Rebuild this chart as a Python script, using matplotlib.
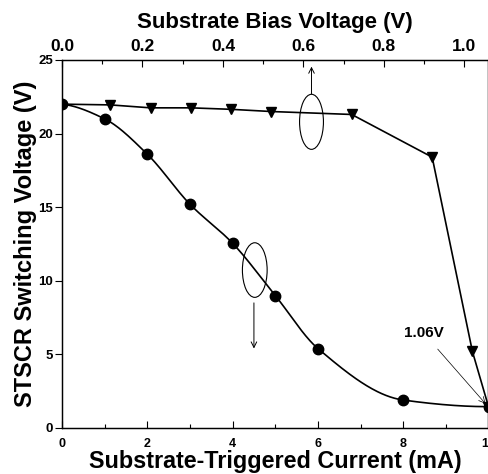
import numpy as np
import matplotlib
matplotlib.use("Agg")
import matplotlib.pyplot as plt
from matplotlib.patches import Ellipse
from matplotlib.ticker import MultipleLocator

plt.rcParams['font.family'] = ['Liberation Sans', 'DejaVu Sans']
plt.rcParams['font.weight'] = 'bold'

# Switching voltage vs. substrate-triggered current (bottom axis)
current_mA = [0, 1, 2, 3, 4, 5, 6, 8, 10]
vsw_current = [22.0, 21.0, 18.6, 15.2, 12.55, 9.0, 5.4, 1.9, 1.45]

# Switching voltage vs. substrate bias voltage (top axis)
bias_V = [0.0, 0.12, 0.22, 0.32, 0.42, 0.52, 0.72, 0.92, 1.02, 1.06]
vsw_bias = [22.0, 21.95, 21.75, 21.75, 21.65, 21.5, 21.3, 18.4, 5.2, 1.45]

x_ticks_bottom = [0, 2, 4, 6, 8, 10]
x_ticks_top = [0.0, 0.2, 0.4, 0.6, 0.8, 1.0]
y_ticks = [0, 5, 10, 15, 20, 25]


def pchip(x, y, xs):
    """Shape-preserving cubic through the measured points."""
    x = np.asarray(x, float)
    y = np.asarray(y, float)
    h = np.diff(x)
    d = np.diff(y) / h
    n = len(x)
    m = np.zeros(n)
    for k in range(1, n - 1):
        if d[k - 1] * d[k] > 0:
            w1 = 2 * h[k] + h[k - 1]
            w2 = h[k] + 2 * h[k - 1]
            m[k] = (w1 + w2) / (w1 / d[k - 1] + w2 / d[k])

    def end(h0, h1, d0, d1):
        s = ((2 * h0 + h1) * d0 - h0 * d1) / (h0 + h1)
        if np.sign(s) != np.sign(d0):
            s = 0.0
        elif np.sign(d0) != np.sign(d1) and abs(s) > abs(3 * d0):
            s = 3 * d0
        return s

    m[0] = end(h[0], h[1], d[0], d[1])
    m[-1] = end(h[-1], h[-2], d[-1], d[-2])
    idx = np.clip(np.searchsorted(x, xs) - 1, 0, n - 2)
    t = (xs - x[idx]) / h[idx]
    h00 = 2 * t**3 - 3 * t**2 + 1
    h10 = t**3 - 2 * t**2 + t
    h01 = -2 * t**3 + 3 * t**2
    h11 = t**3 - t**2
    return (h00 * y[idx] + h10 * h[idx] * m[idx]
            + h01 * y[idx + 1] + h11 * h[idx] * m[idx + 1])


fig = plt.figure(figsize=(4.89, 4.74), dpi=100)
ax = fig.add_axes([62 / 489, 46 / 474, 426.5 / 489, 368 / 474])
ax2 = ax.twiny()

# Bias-voltage curve: straight segments with down-triangles
ax2.plot(bias_V, vsw_bias, color='black', lw=1.2, marker='v', ms=7.5,
         markevery=slice(1, None), zorder=3)
ax2.set_xlim(0, 1.06)
ax2.set_ylim(0, 25)

# Current curve: smooth line through filled circles
xs = np.linspace(current_mA[0], current_mA[-1], 400)
ax.plot(xs, pchip(current_mA, vsw_current, xs), color='black', lw=1.2, zorder=3)
ax.plot(current_mA, vsw_current, 'o', color='black', ms=7.5, zorder=4)
ax.set_xlim(0, 10)
ax.set_ylim(0, 25)
ax.set_zorder(ax2.get_zorder() + 1)
ax.patch.set_visible(False)

# Axis ticks
ax.set_xticks(x_ticks_bottom)
ax.xaxis.set_minor_locator(MultipleLocator(1))
ax.set_yticks(y_ticks)
ax.tick_params(axis='x', which='both', direction='in', labelsize=9, pad=7)
ax.tick_params(axis='x', which='major', length=5, width=0.8)
ax.tick_params(axis='x', which='minor', length=3, width=0.8)
ax.tick_params(axis='y', which='major', direction='out', length=5, width=0.8,
               labelsize=9.5, pad=1.5)
ax2.set_xticks(x_ticks_top)
ax2.set_xticklabels([f"{v:.1f}" for v in x_ticks_top])
ax2.xaxis.set_minor_locator(MultipleLocator(0.1))
ax2.tick_params(axis='x', which='both', direction='in', labelsize=12.5, pad=4)
ax2.tick_params(axis='x', which='major', length=5, width=0.8)
ax2.tick_params(axis='x', which='minor', length=3, width=0.8)
for a in (ax, ax2):
    for sp in a.spines.values():
        sp.set_linewidth(0.9)

ax.set_xlabel('Substrate-Triggered Current (mA)', fontsize=16.8,
              fontweight='bold', labelpad=0)
ax.set_ylabel('STSCR Switching Voltage (V)', fontsize=17,
              fontweight='bold', labelpad=1)
ax2.set_xlabel('Substrate Bias Voltage (V)', fontsize=16,
               fontweight='bold', labelpad=8)

# Curve identification ellipses with arrows toward their axes
ax.add_patch(Ellipse((5.85, 20.8), 0.56, 3.74, fill=False, lw=0.8,
                     color='black', zorder=5))
ax.annotate('', xy=(5.85, 24.55), xytext=(5.85, 22.7),
            arrowprops=dict(arrowstyle='->', lw=0.7, color='black',
                            shrinkA=0, shrinkB=0))
ax.add_patch(Ellipse((4.52, 10.73), 0.58, 3.71, fill=False, lw=0.8,
                     color='black', zorder=5))
ax.annotate('', xy=(4.5, 5.4), xytext=(4.5, 8.5),
            arrowprops=dict(arrowstyle='->', lw=0.7, color='black',
                            shrinkA=0, shrinkB=0))

# Bias voltage at which both curves meet
ax.annotate('1.06V', xy=(9.93, 1.65), xytext=(8.48, 6.45),
            ha='center', va='center', fontsize=11, fontweight='bold',
            arrowprops=dict(arrowstyle='->', lw=0.5, color='black',
                            shrinkA=6, shrinkB=0))

fig.savefig('out.png', dpi=100)
